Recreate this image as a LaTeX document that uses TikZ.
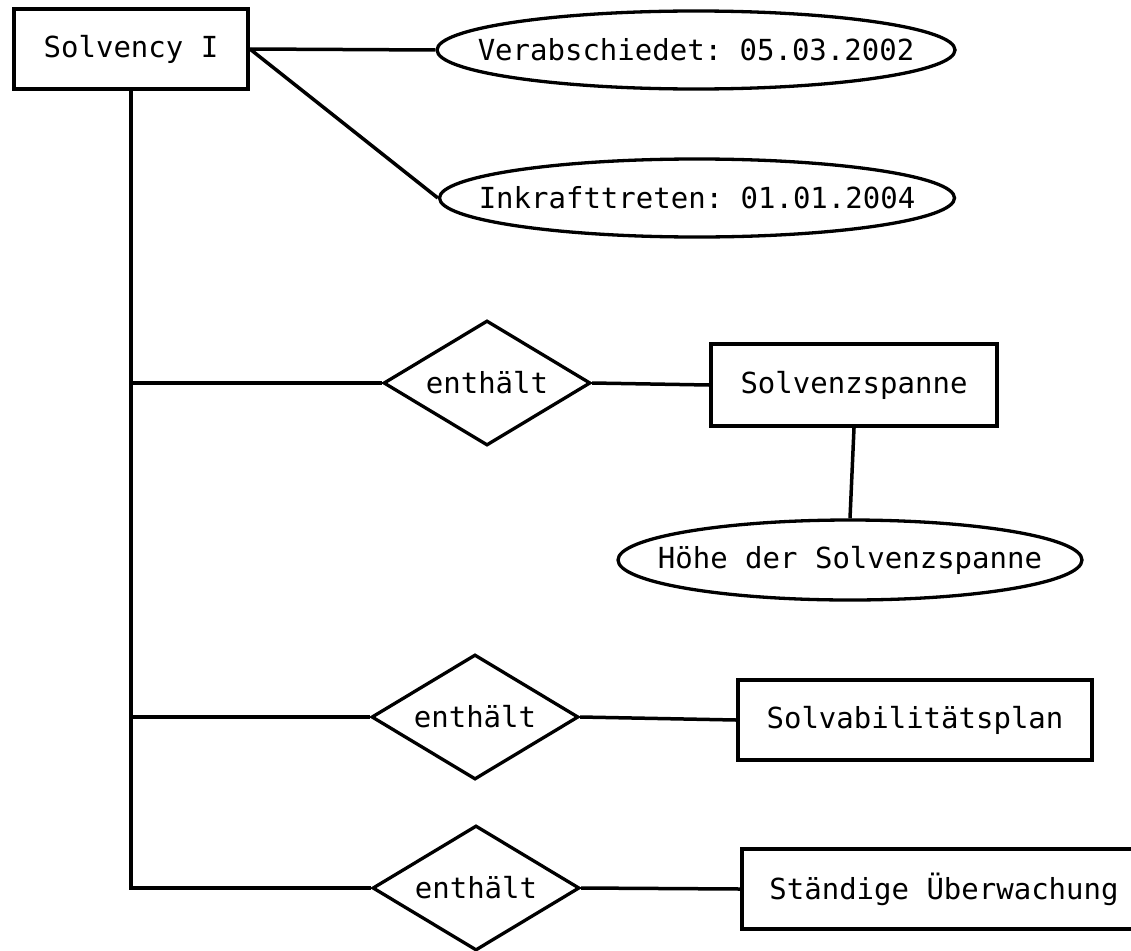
\documentclass[tikz,border=0pt]{standalone}
\usepackage{fontspec}
\setmonofont{DejaVu Sans Mono}
\usetikzlibrary{shapes.geometric}

\newcommand{\ctext}[1]{\makebox[0pt]{#1}}

\tikzset{
  entity/.style={draw, rectangle, line width=3.8pt, minimum height=80pt},
  attr/.style={draw, ellipse, line width=3.3pt, inner sep=0pt, minimum height=78pt},
  rel/.style={draw, diamond, line width=3.3pt, inner sep=0pt, minimum width=207pt, minimum height=125pt},
  link/.style={line width=3.5pt}
}

\begin{document}
\begin{tikzpicture}[x=1pt, y=-1pt, font=\ttfamily\fontsize{29}{34}\selectfont]
\useasboundingbox (0,0) rectangle (1131,950);
\clip (0,0) rectangle (1131,950);
\node[entity, minimum width=234pt] at (131,49) (solv) {Solvency I};
\node[attr, minimum width=518pt] at (696,50) (verab) {\ctext{Verabschiedet: 05.03.2002}};
\node[attr, minimum width=515pt] at (697,198) (inkraft) {\ctext{Inkrafttreten: 01.01.2004}};
\node[rel] at (487,383) (r1) {\ctext{enthält}};
\node[entity, minimum width=286pt, minimum height=82pt] at (854,385) (spanne) {Solvenzspanne};
\node[attr, minimum width=464pt, minimum height=80pt] at (850,560) (hoehe) {\ctext{Höhe der Solvenzspanne}};
\node[rel] at (475,717) (r2) {\ctext{enthält}};
\node[entity, minimum width=354pt] at (915,720) (plan) {Solvabilitätsplan};
\node[rel] at (476,888) (r3) {\ctext{enthält}};
\node[entity, minimum width=404pt] at (944,889) (ueber) {Ständige Überwachung};

\draw[link] (solv.east) -- (verab.west);
\draw[link] (solv.east) -- (inkraft.west);
\draw[link] (solv.south) |- (r3.west);
\draw[link] (solv.south |- r1.west) -- (r1.west);
\draw[link] (solv.south |- r2.west) -- (r2.west);
\draw[link] (r1.east) -- (spanne.west);
\draw[link] (spanne.south) -- (hoehe.north);
\draw[link] (r2.east) -- (plan.west);
\draw[link] (r3.east) -- (ueber.west);
\end{tikzpicture}
\end{document}
